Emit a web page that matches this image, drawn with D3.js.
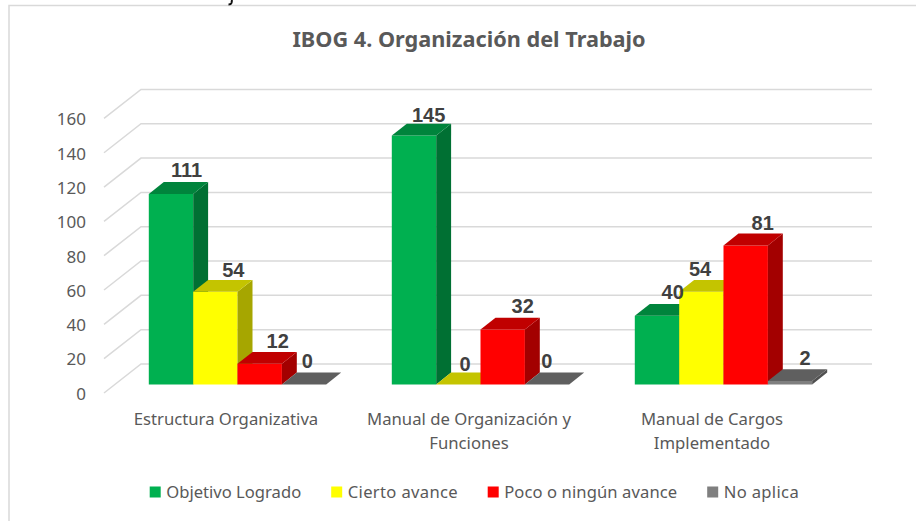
<!DOCTYPE html>
<meta charset="utf-8">
<style>
html, body { margin: 0; padding: 0; background: #fff; }
svg { display: block; }
text { font-family: "Noto Sans", sans-serif; fill: #595959; }
.grid { fill: none; stroke: #d9d9d9; stroke-width: 1.5; }
.title { font-size: 21.7px; font-weight: 700; text-anchor: middle; }
.tick { font-size: 17px; text-anchor: end; }
.cat { font-size: 16.7px; text-anchor: middle; }
.legend { font-size: 16.6px; }
.value { font-family: "Liberation Sans", Arial, sans-serif; font-size: 20px; font-weight: 700; fill: #404040; text-anchor: middle; }
</style>
<svg width="916" height="521"></svg>
<script src="https://d3js.org/d3.v7.min.js"></script>
<script>

var categories = [["Estructura Organizativa"], ["Manual de Organización y", "Funciones"], ["Manual de Cargos", "Implementado"]];
var seriesNames = ["Objetivo Logrado", "Cierto avance", "Poco o ningún avance", "No aplica"];
var objetivoLogrado = [111, 145, 40];
var ciertoAvance = [54, 0, 54];
var pocoAvance = [12, 32, 81];
var noAplica = [0, 0, 2];
var yTicks = [0, 20, 40, 60, 80, 100, 120, 140, 160];

// front, top and side colour of each series
var colors = [
    ["#00b050", "#00843c", "#007033"],
    ["#ffff00", "#c4c400", "#a6a600"],
    ["#ff0000", "#c00000", "#a30000"],
    ["#7f7f7f", "#5f5f5f", "#505050"]
];

// hand placed labels, excel moved some of them off the bar: [dx, dy] per series per category
var labelNudge = [
    [[0.7, -1], [-0.3, 2], [0.7, -1]],
    [[3, 1.5], [-8.3, 2], [-16.3, 0]],
    [[3, -0.5], [5, -1], [2, 0]],
    [[-11.7, -1], [-15.3, -1], [0, -0.5]]
];

// legend text widths, the original font runs a bit wider than ours
var legendWidths = [135, 110, 173, 75];

var svg = d3.select("svg");

// oblique projection: depth 0 is the front of the floor, 1 is the back wall
var depthX = 37, depthY = -29;
var barDepth = 0.405, barStart = (1 - barDepth) / 2;

var y = d3.scaleLinear().domain([0, 160]).range([393, 118.4]);
var x0 = d3.scaleBand().domain(d3.range(3)).range([105, 834]).paddingInner(0.27).paddingOuter(0.135);
var x1 = d3.scaleBand().domain(d3.range(4)).range([0, x0.bandwidth()]);

function px(x, d) { return x + d * depthX; }
function py(v, d) { return y(v) + d * depthY; }
function poly(pts) {
    return pts.map(function(p) { return p[0].toFixed(1) + "," + p[1].toFixed(1); }).join(" ");
}

// chart frame
svg.append("path").attr("class", "grid").attr("d", "M9,521V5.5H916");

// tail of a letter from the text above the chart, only this bit of it is in the picture
svg.append("path")
    .attr("d", "M232,0L231.5,3Q231,4.5 228.5,4.5")
    .attr("fill", "none")
    .attr("stroke", "#111")
    .attr("stroke-width", 2);

svg.append("text").attr("class", "title").attr("x", 469).attr("y", 47).text("IBOG 4. Organización del Trabajo");

// gridlines, floor to back wall then across
svg.append("g").selectAll("path")
  .data(yTicks)
  .enter().append("path")
    .attr("class", "grid")
    .attr("d", function(d) {
        return "M104," + y(d) + "L" + px(104, 1) + "," + py(d, 1) + "H872";
    });

svg.append("g").selectAll("text")
  .data(yTicks)
  .enter().append("text")
    .attr("class", "tick")
    .attr("x", 86)
    .attr("y", function(d) { return y(d) + 6.8; })
    .text(function(d) { return d; });

var values = [objetivoLogrado, ciertoAvance, pocoAvance, noAplica];

// bars go left to right so each one covers the side of the one before
categories.forEach(function(c, i) {
    values.forEach(function(series, s) {
        var v = series[i],
            l = x0(i) + x1(s),
            r = l + x1.bandwidth(),
            d0 = barStart,
            d1 = barStart + barDepth,
            g = svg.append("g");

        g.append("polygon").attr("fill", colors[s][0])
            .attr("points", poly([[px(l, d0), py(v, d0)], [px(r, d0), py(v, d0)], [px(r, d0), py(0, d0)], [px(l, d0), py(0, d0)]]));
        g.append("polygon").attr("fill", colors[s][2])
            .attr("points", poly([[px(r, d0), py(v, d0)], [px(r, d1), py(v, d1)], [px(r, d1), py(0, d1)], [px(r, d0), py(0, d0)]]));
        g.append("polygon").attr("fill", colors[s][1])
            .attr("points", poly([[px(l, d0), py(v, d0)], [px(l, d1), py(v, d1)], [px(r, d1), py(v, d1)], [px(r, d0), py(v, d0)]]));
    });
});

// value labels on top of everything
categories.forEach(function(c, i) {
    values.forEach(function(series, s) {
        var n = labelNudge[s][i];
        svg.append("text")
            .attr("class", "value")
            .attr("x", px(x0(i) + x1(s) + x1.bandwidth() / 2, barStart + barDepth) + n[0])
            .attr("y", py(series[i], barStart + barDepth) - 4 + n[1])
            .text(series[i]);
    });
});

// category labels
var cat = svg.append("g").selectAll("text")
  .data(categories)
  .enter().append("text")
    .attr("class", "cat")
    .attr("y", 425);

cat.selectAll("tspan")
  .data(function(d, i) { return d.map(function(t) { return {t: t, i: i}; }); })
  .enter().append("tspan")
    .attr("x", function(d) { return x0(d.i) + x0.bandwidth() / 2 - 0.5; })
    .attr("dy", function(d, j) { return j ? 23.5 : 0; })
    .text(function(d) { return d.t; });

// legend
var lx = 149.7;
seriesNames.forEach(function(name, s) {
    svg.append("rect").attr("x", lx).attr("y", 486.5).attr("width", 11).attr("height", 11).attr("fill", colors[s][0]);
    svg.append("text").attr("class", "legend").attr("x", lx + 16.5).attr("y", 497.5)
        .attr("textLength", legendWidths[s])
        .text(name);
    lx += 16.5 + legendWidths[s] + 30;
});

</script>
